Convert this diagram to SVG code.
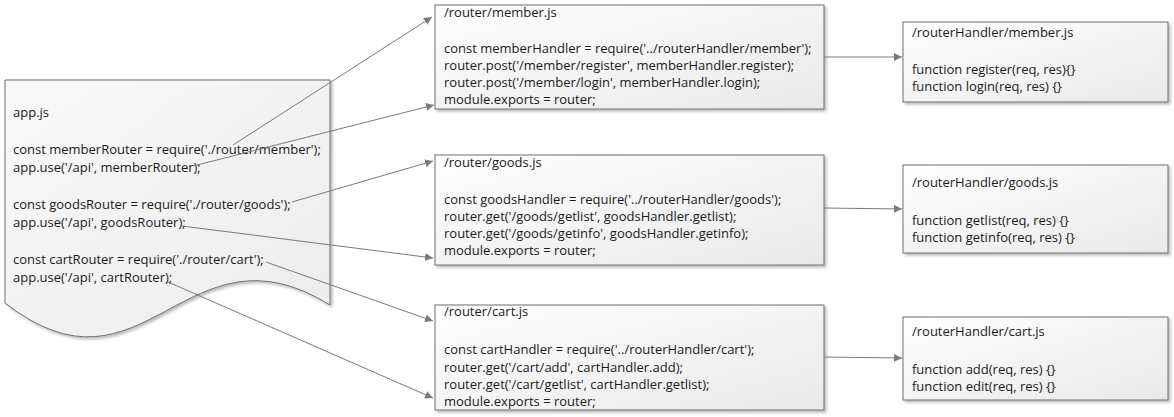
<svg xmlns="http://www.w3.org/2000/svg" width="1174" height="417" viewBox="0 0 1174 417">
<style>
.box{fill:url(#g);stroke:#6e6e6e;stroke-width:1;filter:url(#sh)}
.doc{fill:url(#gd);stroke:#6e6e6e;stroke-width:1;filter:url(#sh)}
text{font-family:"Open Sans","Liberation Sans",Arial,sans-serif;font-size:13px;fill:#1a1a1a}
.c{fill:none;stroke:#7a7a7a;stroke-width:1;marker-end:url(#ah)}
</style>
<defs>
<linearGradient id="g" x1="0" y1="0" x2="1" y2="1"><stop offset="0" stop-color="#ffffff"/><stop offset="1" stop-color="#e9e9e9"/></linearGradient>
<linearGradient id="gd" x1="0" y1="0" x2="1" y2="1"><stop offset="0" stop-color="#f9f9f9"/><stop offset="1" stop-color="#ececec"/></linearGradient>
<filter id="sh" x="-5%" y="-5%" width="115%" height="120%"><feDropShadow dx="2" dy="2" stdDeviation="1.5" flood-color="#000" flood-opacity="0.28"/></filter>
<marker id="ah" viewBox="0 0 10 10" refX="10" refY="5" markerWidth="8" markerHeight="8" markerUnits="userSpaceOnUse" orient="auto"><path d="M0,0 L10,5 L0,10 z" fill="#7a7a7a"/></marker>
</defs>

<g id="app">
<path class="doc" d="M5,80 H330 V305 C185,215 145,412 5,303 Z"/>
<text x="13" y="117">app.js</text>
<text x="13" y="154">const memberRouter = require('./router/member');</text>
<text x="13" y="172">app.use('/api', memberRouter);</text>
<text x="13" y="209">const goodsRouter = require('./router/goods');</text>
<text x="13" y="227">app.use('/api', goodsRouter);</text>
<text x="13" y="264">const cartRouter = require('./router/cart');</text>
<text x="13" y="282">app.use('/api', cartRouter);</text>
</g>

<g id="router-member">
<rect class="box" x="435" y="5" width="389" height="104"/>
<text x="444" y="17">/router/member.js</text>
<text x="444" y="53">const memberHandler = require('../routerHandler/member');</text>
<text x="444" y="70">router.post('/member/register', memberHandler.register);</text>
<text x="444" y="87">router.post('/member/login', memberHandler.login);</text>
<text x="444" y="104">module.exports = router;</text>
</g>

<g id="router-goods">
<rect class="box" x="435" y="155" width="389" height="110"/>
<text x="444" y="167">/router/goods.js</text>
<text x="444" y="204">const goodsHandler = require('../routerHandler/goods');</text>
<text x="444" y="221">router.get('/goods/getlist', goodsHandler.getlist);</text>
<text x="444" y="238">router.get('/goods/getinfo', goodsHandler.getinfo);</text>
<text x="444" y="255">module.exports = router;</text>
</g>

<g id="router-cart">
<rect class="box" x="435" y="305" width="389" height="105"/>
<text x="444" y="316">/router/cart.js</text>
<text x="444" y="354">const cartHandler = require('../routerHandler/cart');</text>
<text x="444" y="372">router.get('/cart/add', cartHandler.add);</text>
<text x="444" y="389">router.get('/cart/getlist', cartHandler.getlist);</text>
<text x="444" y="406">module.exports = router;</text>
</g>

<g id="handler-member">
<rect class="box" x="903" y="22" width="265" height="80"/>
<text x="912" y="37">/routerHandler/member.js</text>
<text x="912" y="74">function register(req, res){}</text>
<text x="912" y="91">function login(req, res) {}</text>
</g>

<g id="handler-goods">
<rect class="box" x="903" y="165" width="265" height="88"/>
<text x="912" y="187">/routerHandler/goods.js</text>
<text x="912" y="225">function getlist(req, res) {}</text>
<text x="912" y="242">function getinfo(req, res) {}</text>
</g>

<g id="handler-cart">
<rect class="box" x="903" y="317" width="265" height="83"/>
<text x="912" y="336">/routerHandler/cart.js</text>
<text x="912" y="374">function add(req, res) {}</text>
<text x="912" y="391">function edit(req, res) {}</text>
</g>

<g id="connectors">
<path class="c" d="M233,145 L432,17"/>
<path class="c" d="M193,166 L434,105"/>
<path class="c" d="M292,202 L433,161"/>
<path class="c" d="M182,226 L433,258"/>
<path class="c" d="M266,262 L433,321"/>
<path class="c" d="M168,282 L433,398"/>
<path class="c" d="M824,57 L902,57"/>
<path class="c" d="M824,208 L902,209"/>
<path class="c" d="M824,357 L902,358"/>
</g>
</svg>
